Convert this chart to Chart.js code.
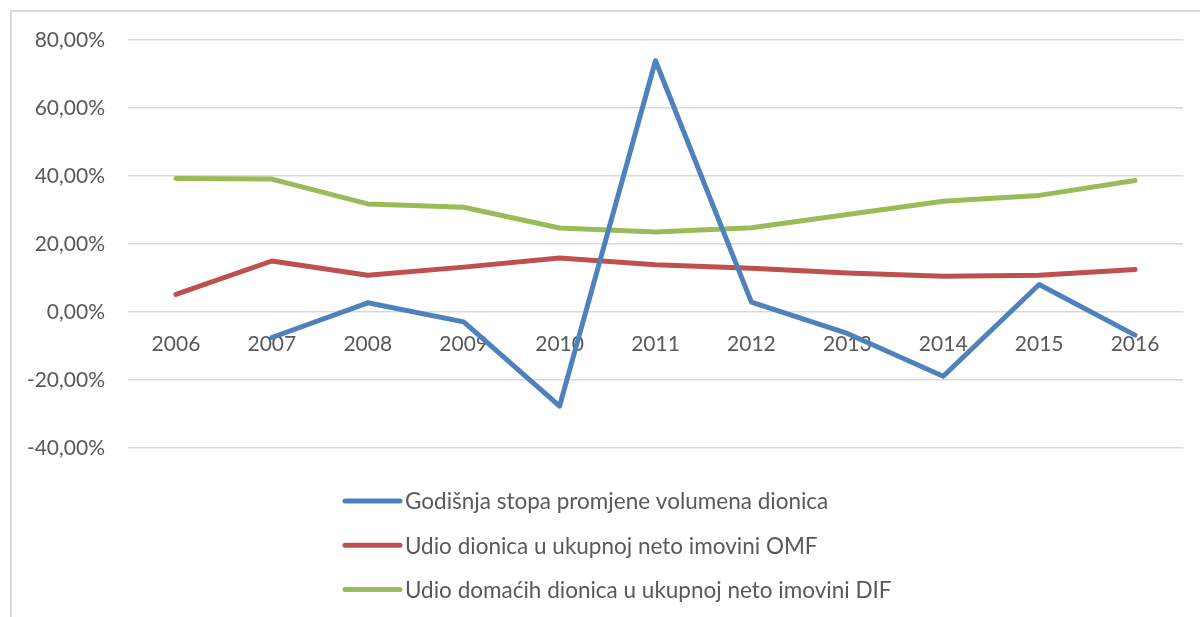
<!DOCTYPE html>
<html>
<head>
<meta charset="utf-8">
<script src="https://cdn.jsdelivr.net/npm/chart.js@4.4.1/dist/chart.umd.min.js"></script>
<style>
  html, body { margin: 0; padding: 0; background: #fff; }
  #wrap { position: relative; width: 1200px; height: 617px; overflow: hidden; }
  #frame { position: absolute; left: 10px; top: 10px; width: 1300px; height: 700px;
           border-left: 2px solid #d9d9d9; border-top: 2px solid #d9d9d9; box-sizing: border-box; }
  #mychart { position: absolute; left: 0; top: 0; }
</style>
</head>
<body>
<div id="wrap">
  <div id="frame"></div>
  <canvas id="mychart" width="1200" height="617"></canvas>
</div>
<script>
var years = ['2006', '2007', '2008', '2009', '2010', '2011', '2012', '2013', '2014', '2015', '2016'];

var seriesNames = [
  'Godišnja stopa promjene volumena dionica',
  'Udio dionica u ukupnoj neto imovini OMF',
  'Udio domaćih dionica u ukupnoj neto imovini DIF'
];

// values in percent
var volumeChange = [null, -7.5, 2.7, -2.9, -27.7, 73.9, 2.9, -6.3, -18.9, 8.1, -6.8];
var shareOMF = [5.2, 15.0, 10.8, 13.2, 15.9, 13.9, 12.9, 11.5, 10.5, 10.8, 12.5];
var shareDIF = [39.3, 39.1, 31.8, 30.8, 24.7, 23.5, 24.8, 28.7, 32.6, 34.3, 38.7];

var yMin = -40;
var yMax = 80;
var yStep = 20;

var colors = ['#4f81bd', '#c0504d', '#9bbb59'];
var fontFamily = 'Lato, "Liberation Sans", sans-serif';

// legend stacked one item per row under the plot
var stackedLegend = {
  id: 'stackedLegend',
  afterDraw: function (chart) {
    var c = chart.ctx;
    var x0 = 345;
    var y0 = 501;
    c.save();
    c.font = '22.5px ' + fontFamily;
    c.textBaseline = 'middle';
    chart.data.datasets.forEach(function (ds, i) {
      var y = y0 + i * 44.3;
      c.strokeStyle = ds.borderColor;
      c.lineWidth = 5;
      c.lineCap = 'round';
      c.beginPath();
      c.moveTo(x0, y);
      c.lineTo(x0 + 55, y);
      c.stroke();
      c.fillStyle = '#595959';
      c.fillText(ds.label, x0 + 60, y + 1);
    });
    c.restore();
  }
};

var ctx = document.getElementById('mychart');
var myChart = new Chart(ctx, {
  type: 'line',
  data: {
    labels: years,
    datasets: [{
      label: seriesNames[0],
      data: volumeChange,
      borderColor: colors[0],
      backgroundColor: colors[0]
    }, {
      label: seriesNames[1],
      data: shareOMF,
      borderColor: colors[1],
      backgroundColor: colors[1]
    }, {
      label: seriesNames[2],
      data: shareDIF,
      borderColor: colors[2],
      backgroundColor: colors[2]
    }]
  },
  options: {
    responsive: false,
    animation: false,
    layout: {
      padding: { top: 40, right: 17, bottom: 169, left: 0 }
    },
    elements: {
      line: { borderWidth: 5, tension: 0, borderCapStyle: 'round', borderJoinStyle: 'round' },
      point: { radius: 0, hoverRadius: 0 }
    },
    plugins: {
      legend: { display: false },
      tooltip: { enabled: false }
    },
    scales: {
      x: {
        position: { y: 0 },
        offset: true,
        grid: { display: false, drawTicks: false },
        border: { display: false },
        ticks: {
          color: '#595959',
          padding: 20,
          maxRotation: 0,
          font: { family: fontFamily, size: 21 }
        }
      },
      y: {
        min: yMin,
        max: yMax,
        afterFit: function (scale) { scale.width = 128; },
        grid: { color: '#d9d9d9', lineWidth: 1.5, drawTicks: false },
        border: { display: false },
        ticks: {
          stepSize: yStep,
          color: '#595959',
          padding: 23,
          font: { family: fontFamily, size: 21 },
          callback: function (v) { return v.toFixed(2).replace('.', ',') + '%'; }
        }
      }
    }
  },
  plugins: [stackedLegend]
});
</script>
</body>
</html>
